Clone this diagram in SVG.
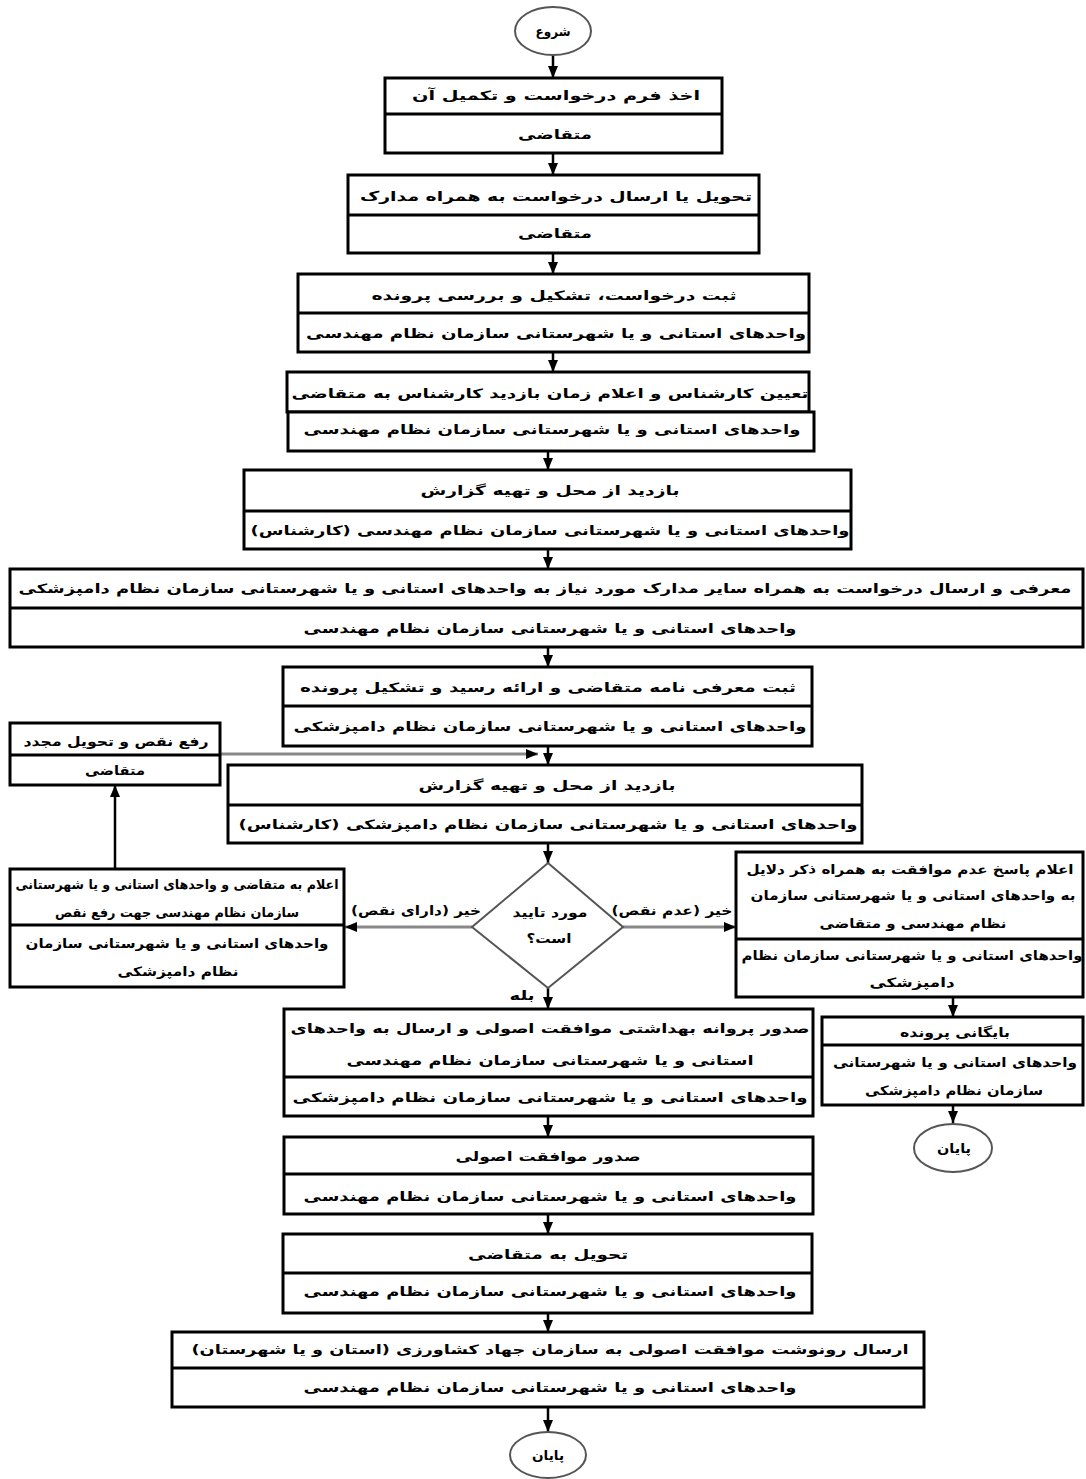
<svg xmlns="http://www.w3.org/2000/svg" width="1086" height="1479" viewBox="0 0 1086 1479">
<defs>
<style>
.box{fill:#fff;stroke:#000;stroke-width:3}
.dv{stroke:#000;stroke-width:3}
.oval{fill:#fff;stroke:#555;stroke-width:2}
.dia{fill:#fff;stroke:#555;stroke-width:2}
.t{font-family:"DejaVu Sans",sans-serif;font-size:13px;font-weight:bold;direction:rtl;text-anchor:middle;dominant-baseline:central;fill:#000}
.ln{stroke:#000;stroke-width:2.5;fill:none}
.gl{stroke:#888;stroke-width:3;fill:none}
</style>
<marker id="ah" viewBox="0 0 12 10" refX="12" refY="5" markerWidth="12" markerHeight="10" markerUnits="userSpaceOnUse" orient="auto">
<path d="M0,0 L12,5 L0,10 Z" fill="#000"/>
</marker>
</defs>
<rect width="1086" height="1479" fill="#fff"/>

<g id="connectors">
<line class="ln" x1="553" y1="55" x2="553" y2="78" marker-end="url(#ah)"/>
<line class="ln" x1="553" y1="153" x2="553" y2="175" marker-end="url(#ah)"/>
<line class="ln" x1="553" y1="253" x2="553" y2="274" marker-end="url(#ah)"/>
<line class="ln" x1="553" y1="352" x2="553" y2="372" marker-end="url(#ah)"/>
<line class="ln" x1="548" y1="451" x2="548" y2="470" marker-end="url(#ah)"/>
<line class="ln" x1="548" y1="549" x2="548" y2="569" marker-end="url(#ah)"/>
<line class="ln" x1="548" y1="647" x2="548" y2="667" marker-end="url(#ah)"/>
<line class="ln" x1="548" y1="746" x2="548" y2="765" marker-end="url(#ah)"/>
<line class="gl" x1="220" y1="754" x2="538" y2="754" marker-end="url(#ah)"/>
<line class="ln" x1="548" y1="843" x2="548" y2="863" marker-end="url(#ah)"/>
<line class="gl" x1="472" y1="927" x2="345" y2="927" marker-end="url(#ah)"/>
<line class="gl" x1="623" y1="927" x2="736" y2="927" marker-end="url(#ah)"/>
<line class="ln" x1="548" y1="988" x2="548" y2="1009" marker-end="url(#ah)"/>
<line class="ln" x1="115" y1="869" x2="115" y2="785" marker-end="url(#ah)"/>
<line class="ln" x1="953" y1="997" x2="953" y2="1017" marker-end="url(#ah)"/>
<line class="ln" x1="953" y1="1105" x2="953" y2="1123" marker-end="url(#ah)"/>
<line class="ln" x1="548" y1="1116" x2="548" y2="1137" marker-end="url(#ah)"/>
<line class="ln" x1="548" y1="1214" x2="548" y2="1234" marker-end="url(#ah)"/>
<line class="ln" x1="548" y1="1313" x2="548" y2="1332" marker-end="url(#ah)"/>
<line class="ln" x1="548" y1="1407" x2="548" y2="1432" marker-end="url(#ah)"/>
</g>

<g id="start">
<ellipse class="oval" cx="553" cy="31" rx="38" ry="24"/>
<text class="t" x="553" y="31" textLength="35" lengthAdjust="spacingAndGlyphs">شروع</text>
</g>

<g id="n1">
<rect class="box" x="385" y="78" width="337" height="75"/>
<line class="dv" x1="385" y1="114" x2="722" y2="114"/>
<text class="t" x="556" y="95" textLength="288" lengthAdjust="spacingAndGlyphs">اخذ فرم درخواست و تکمیل آن</text>
<text class="t" x="555" y="134" textLength="74" lengthAdjust="spacingAndGlyphs">متقاضی</text>
</g>

<g id="n2">
<rect class="box" x="348" y="175" width="411" height="78"/>
<line class="dv" x1="348" y1="215" x2="759" y2="215"/>
<text class="t" x="556" y="196" textLength="392" lengthAdjust="spacingAndGlyphs">تحویل یا ارسال درخواست به همراه مدارک</text>
<text class="t" x="555" y="233" textLength="74" lengthAdjust="spacingAndGlyphs">متقاضی</text>
</g>

<g id="n3">
<rect class="box" x="298" y="274" width="511" height="78"/>
<line class="dv" x1="298" y1="313" x2="809" y2="313"/>
<text class="t" x="554" y="295" textLength="365" lengthAdjust="spacingAndGlyphs">ثبت درخواست، تشکیل و بررسی پرونده</text>
<text class="t" x="556" y="333" textLength="500" lengthAdjust="spacingAndGlyphs">واحدهای استانی و یا شهرستانی سازمان نظام مهندسی</text>
</g>

<g id="n4">
<rect class="box" x="287" y="372" width="522" height="40"/>
<rect class="box" x="288" y="412" width="526" height="39"/>
<text class="t" x="550" y="393" textLength="517" lengthAdjust="spacingAndGlyphs">تعیین کارشناس و اعلام زمان بازدید کارشناس به متقاضی</text>
<text class="t" x="552" y="429" textLength="497" lengthAdjust="spacingAndGlyphs">واحدهای استانی و یا شهرستانی سازمان نظام مهندسی</text>
</g>

<g id="n5">
<rect class="box" x="244" y="470" width="607" height="79"/>
<line class="dv" x1="244" y1="511" x2="851" y2="511"/>
<text class="t" x="550" y="490" textLength="259" lengthAdjust="spacingAndGlyphs">بازدید از محل و تهیه گزارش</text>
<text class="t" x="550" y="530" textLength="599" lengthAdjust="spacingAndGlyphs">واحدهای استانی و یا شهرستانی سازمان نظام مهندسی (کارشناس)</text>
</g>

<g id="n6">
<rect class="box" x="10" y="569" width="1073" height="78"/>
<line class="dv" x1="10" y1="608" x2="1083" y2="608"/>
<text class="t" x="545" y="588" textLength="1053" lengthAdjust="spacingAndGlyphs">معرفی و ارسال درخواست به همراه سایر مدارک مورد نیاز به واحدهای استانی و یا شهرستانی سازمان نظام دامپزشکی</text>
<text class="t" x="550" y="628" textLength="493" lengthAdjust="spacingAndGlyphs">واحدهای استانی و یا شهرستانی سازمان نظام مهندسی</text>
</g>

<g id="n7">
<rect class="box" x="283" y="667" width="529" height="79"/>
<line class="dv" x1="283" y1="706" x2="812" y2="706"/>
<text class="t" x="548" y="687" textLength="496" lengthAdjust="spacingAndGlyphs">ثبت معرفی نامه متقاضی و ارائه رسید و تشکیل پرونده</text>
<text class="t" x="550" y="726" textLength="513" lengthAdjust="spacingAndGlyphs">واحدهای استانی و یا شهرستانی سازمان نظام دامپزشکی</text>
</g>

<g id="fix">
<rect class="box" x="10" y="723" width="210" height="62"/>
<line class="dv" x1="10" y1="755" x2="220" y2="755"/>
<text class="t" x="116" y="741" textLength="185" lengthAdjust="spacingAndGlyphs">رفع نقص و تحویل مجدد</text>
<text class="t" x="115" y="770" textLength="60" lengthAdjust="spacingAndGlyphs">متقاضی</text>
</g>

<g id="n8">
<rect class="box" x="228" y="765" width="634" height="78"/>
<line class="dv" x1="228" y1="805" x2="862" y2="805"/>
<text class="t" x="547" y="785" textLength="257" lengthAdjust="spacingAndGlyphs">بازدید از محل و تهیه گزارش</text>
<text class="t" x="548" y="824" textLength="619" lengthAdjust="spacingAndGlyphs">واحدهای استانی و یا شهرستانی سازمان نظام دامپزشکی (کارشناس)</text>
</g>

<g id="decision">
<polygon class="dia" points="548,863 623,927 548,988 472,927"/>
<text class="t" x="550" y="912" textLength="75" lengthAdjust="spacingAndGlyphs">مورد تایید</text>
<text class="t" x="549" y="938" textLength="45" lengthAdjust="spacingAndGlyphs">است؟</text>
<text class="t" x="522" y="995" textLength="25" lengthAdjust="spacingAndGlyphs">بله</text>
<text class="t" x="416" y="910" textLength="130" lengthAdjust="spacingAndGlyphs">خیر (دارای نقص)</text>
<text class="t" x="672" y="910" textLength="121" lengthAdjust="spacingAndGlyphs">خیر (عدم نقص)</text>
</g>

<g id="notify">
<rect class="box" x="10" y="869" width="334" height="118"/>
<line class="dv" x1="10" y1="925" x2="344" y2="925"/>
<text class="t" x="177" y="884" textLength="323" lengthAdjust="spacingAndGlyphs">اعلام به متقاضی و واحدهای استانی و یا شهرستانی</text>
<text class="t" x="177" y="912" textLength="244" lengthAdjust="spacingAndGlyphs">سازمان نظام مهندسی جهت رفع نقص</text>
<text class="t" x="177" y="943" textLength="303" lengthAdjust="spacingAndGlyphs">واحدهای استانی و یا شهرستانی سازمان</text>
<text class="t" x="178" y="971" textLength="121" lengthAdjust="spacingAndGlyphs">نظام دامپزشکی</text>
</g>

<g id="reject">
<rect class="box" x="736" y="852" width="347" height="145"/>
<line class="dv" x1="736" y1="939" x2="1083" y2="939"/>
<text class="t" x="910" y="869" textLength="327" lengthAdjust="spacingAndGlyphs">اعلام پاسخ عدم موافقت به همراه ذکر دلایل</text>
<text class="t" x="913" y="895" textLength="325" lengthAdjust="spacingAndGlyphs">به واحدهای استانی و یا شهرستانی سازمان</text>
<text class="t" x="913" y="923" textLength="187" lengthAdjust="spacingAndGlyphs">نظام مهندسی و متقاضی</text>
<text class="t" x="912" y="955" textLength="341" lengthAdjust="spacingAndGlyphs">واحدهای استانی و یا شهرستانی سازمان نظام</text>
<text class="t" x="912" y="982" textLength="85" lengthAdjust="spacingAndGlyphs">دامپزشکی</text>
</g>

<g id="archive">
<rect class="box" x="822" y="1017" width="261" height="88"/>
<line class="dv" x1="822" y1="1045" x2="1083" y2="1045"/>
<text class="t" x="955" y="1032" textLength="110" lengthAdjust="spacingAndGlyphs">بایگانی پرونده</text>
<text class="t" x="955" y="1062" textLength="244" lengthAdjust="spacingAndGlyphs">واحدهای استانی و یا شهرستانی</text>
<text class="t" x="954" y="1090" textLength="178" lengthAdjust="spacingAndGlyphs">سازمان نظام دامپزشکی</text>
</g>

<g id="end2">
<ellipse class="oval" cx="953" cy="1148" rx="39" ry="24"/>
<text class="t" x="954" y="1148" textLength="34" lengthAdjust="spacingAndGlyphs">پایان</text>
</g>

<g id="n9">
<rect class="box" x="284" y="1009" width="529" height="107"/>
<line class="dv" x1="284" y1="1077" x2="813" y2="1077"/>
<text class="t" x="550" y="1028" textLength="519" lengthAdjust="spacingAndGlyphs">صدور پروانه بهداشتی موافقت اصولی و ارسال به واحدهای</text>
<text class="t" x="550" y="1060" textLength="407" lengthAdjust="spacingAndGlyphs">استانی و یا شهرستانی سازمان نظام مهندسی</text>
<text class="t" x="550" y="1097" textLength="515" lengthAdjust="spacingAndGlyphs">واحدهای استانی و یا شهرستانی سازمان نظام دامپزشکی</text>
</g>

<g id="n10">
<rect class="box" x="284" y="1137" width="529" height="77"/>
<line class="dv" x1="284" y1="1174" x2="813" y2="1174"/>
<text class="t" x="548" y="1156" textLength="185" lengthAdjust="spacingAndGlyphs">صدور موافقت اصولی</text>
<text class="t" x="550" y="1196" textLength="493" lengthAdjust="spacingAndGlyphs">واحدهای استانی و یا شهرستانی سازمان نظام مهندسی</text>
</g>

<g id="n11">
<rect class="box" x="283" y="1234" width="529" height="79"/>
<line class="dv" x1="283" y1="1273" x2="812" y2="1273"/>
<text class="t" x="548" y="1254" textLength="160" lengthAdjust="spacingAndGlyphs">تحویل به متقاضی</text>
<text class="t" x="550" y="1291" textLength="493" lengthAdjust="spacingAndGlyphs">واحدهای استانی و یا شهرستانی سازمان نظام مهندسی</text>
</g>

<g id="n12">
<rect class="box" x="172" y="1332" width="752" height="75"/>
<line class="dv" x1="172" y1="1368" x2="924" y2="1368"/>
<text class="t" x="550" y="1349" textLength="717" lengthAdjust="spacingAndGlyphs">ارسال رونوشت موافقت اصولی به سازمان جهاد کشاورزی (استان و یا شهرستان)</text>
<text class="t" x="550" y="1387" textLength="493" lengthAdjust="spacingAndGlyphs">واحدهای استانی و یا شهرستانی سازمان نظام مهندسی</text>
</g>

<g id="end">
<ellipse class="oval" cx="548" cy="1455" rx="38" ry="23"/>
<text class="t" x="548" y="1455" textLength="32" lengthAdjust="spacingAndGlyphs">پایان</text>
</g>
</svg>
